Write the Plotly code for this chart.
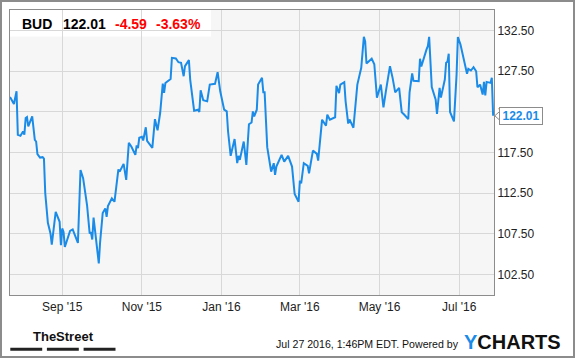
import plotly.graph_objects as go

# ---------------- data ----------------
dates = [
    "2015-07-23", "2015-07-26", "2015-07-28", "2015-07-29", "2015-07-31", "2015-08-02", "2015-08-03",
    "2015-08-04", "2015-08-05", "2015-08-06", "2015-08-09", "2015-08-11", "2015-08-12", "2015-08-13",
    "2015-08-15", "2015-08-17", "2015-08-18", "2015-08-19", "2015-08-21", "2015-08-23", "2015-08-24",
    "2015-08-27", "2015-08-30", "2015-08-31", "2015-09-01", "2015-09-02", "2015-09-03", "2015-09-07",
    "2015-09-09", "2015-09-13", "2015-09-15", "2015-09-17", "2015-09-20", "2015-09-22", "2015-09-23",
    "2015-09-24", "2015-09-25", "2015-09-29", "2015-09-30", "2015-10-02", "2015-10-04", "2015-10-05",
    "2015-10-06", "2015-10-09", "2015-10-11", "2015-10-14", "2015-10-15", "2015-10-18", "2015-10-20",
    "2015-10-22", "2015-10-24", "2015-10-27", "2015-10-28", "2015-10-29", "2015-10-30", "2015-11-01",
    "2015-11-02", "2015-11-04", "2015-11-05", "2015-11-09", "2015-11-11", "2015-11-13", "2015-11-15",
    "2015-11-17", "2015-11-18", "2015-11-19", "2015-11-23", "2015-11-24", "2015-11-27", "2015-11-29",
    "2015-12-01", "2015-12-03", "2015-12-04", "2015-12-07", "2015-12-08", "2015-12-11", "2015-12-14",
    "2015-12-15", "2015-12-16", "2015-12-18", "2015-12-21", "2015-12-23", "2015-12-27", "2015-12-29",
    "2015-12-31", "2016-01-03", "2016-01-05", "2016-01-06", "2016-01-08", "2016-01-11", "2016-01-13",
    "2016-01-14", "2016-01-15", "2016-01-18", "2016-01-20", "2016-01-22", "2016-01-24", "2016-01-25",
    "2016-01-26", "2016-01-28", "2016-01-29", "2016-02-01", "2016-02-02", "2016-02-03", "2016-02-05",
    "2016-02-08", "2016-02-10", "2016-02-11", "2016-02-12", "2016-02-16", "2016-02-18", "2016-02-21",
    "2016-02-24", "2016-02-26", "2016-02-29", "2016-03-01", "2016-03-02", "2016-03-04", "2016-03-07",
    "2016-03-08", "2016-03-11", "2016-03-14", "2016-03-15", "2016-03-18", "2016-03-21", "2016-03-22",
    "2016-03-24", "2016-03-28", "2016-03-29", "2016-03-31", "2016-04-01", "2016-04-04", "2016-04-05",
    "2016-04-07", "2016-04-08", "2016-04-11", "2016-04-14", "2016-04-17", "2016-04-19", "2016-04-20",
    "2016-04-21", "2016-04-22", "2016-04-25", "2016-04-27", "2016-04-29", "2016-05-02", "2016-05-04",
    "2016-05-06", "2016-05-09", "2016-05-11", "2016-05-13", "2016-05-16", "2016-05-18", "2016-05-20",
    "2016-05-23", "2016-05-24", "2016-05-26", "2016-05-27", "2016-05-31", "2016-06-01", "2016-06-02",
    "2016-06-06", "2016-06-07", "2016-06-08", "2016-06-10", "2016-06-13", "2016-06-14", "2016-06-16",
    "2016-06-17", "2016-06-20", "2016-06-21", "2016-06-22", "2016-06-23", "2016-06-24", "2016-06-27",
    "2016-06-29", "2016-06-30", "2016-07-02", "2016-07-06", "2016-07-07", "2016-07-08", "2016-07-10",
    "2016-07-12", "2016-07-14", "2016-07-15", "2016-07-17", "2016-07-19", "2016-07-20", "2016-07-21",
    "2016-07-22", "2016-07-25", "2016-07-26", "2016-07-27",
]

prices = [
    124.32, 123.46, 125.02, 119.68, 119.55, 120.08, 119.68,
    121.74, 121.86, 120.70, 121.93, 119.06, 118.85, 117.30,
    116.88, 116.93, 116.75, 112.49, 108.86, 107.56, 106.20,
    110.22, 108.99, 106.11, 108.17, 107.75, 105.90, 107.88,
    108.05, 106.40, 115.36, 114.34, 111.05, 107.56, 107.72,
    106.82, 109.50, 103.89, 106.48, 110.06, 110.64, 109.60,
    110.92, 111.87, 111.45, 115.42, 115.15, 116.10, 114.13,
    118.69, 118.20, 117.21, 118.38, 118.04, 119.31, 119.43,
    118.97, 120.60, 118.94, 118.07, 121.59, 120.23, 122.35,
    125.97, 124.82, 126.03, 126.52, 129.13, 129.05, 128.59,
    128.52, 126.87, 128.10, 128.84, 126.46, 122.64, 122.76,
    122.48, 125.14, 123.91, 123.78, 125.84, 125.93, 127.36,
    125.02, 122.76, 122.55, 120.08, 117.09, 119.15, 116.19,
    117.09, 116.59, 118.85, 115.98, 120.97, 121.19, 122.55,
    121.93, 122.76, 125.84, 126.67, 124.89, 124.89, 118.16,
    115.15, 116.19, 114.74, 115.77, 117.21, 116.38, 117.09,
    115.77, 112.40, 111.45, 114.04, 113.72, 116.19, 115.85,
    114.95, 117.74, 117.33, 116.51, 121.53, 120.79, 122.14,
    121.53, 121.83, 125.68, 124.79, 125.84, 126.13, 123.81,
    121.06, 121.56, 120.54, 125.84, 127.90, 131.72, 131.14,
    128.43, 128.55, 129.02, 128.34, 124.24, 125.84, 123.04,
    125.16, 128.10, 126.67, 124.89, 125.43, 122.45, 122.14,
    121.59, 124.86, 127.20, 126.30, 126.25, 129.02, 128.06,
    130.16, 130.56, 131.70, 125.53, 123.99, 122.23, 125.43,
    124.24, 126.46, 128.52, 128.64, 129.63, 122.48, 121.32,
    127.07, 131.67, 130.77, 128.10, 127.16, 127.78, 127.57,
    127.97, 127.48, 125.51, 125.84, 124.61, 126.17, 124.52,
    126.17, 126.05, 126.67, 122.01,
]

y_tick_vals = [102.5, 107.5, 112.5, 117.5, 122.5, 127.5, 132.5]
ticker = "BUD"
last_price = "122.01"
change = "-4.59"
change_pct = "-3.63%"
timestamp_text = "Jul 27 2016, 1:46PM EDT. Powered by"

# ---------------- styling ----------------
W, H = 575, 358
ML, MR, MT, MB = 10, 81, 10, 63
PW, PH = W - ML - MR, H - MT - MB
LINE_BLUE = "#1b8be8"
TXT = "#222222"
FONT = "Liberation Sans, Arial, sans-serif"


def px_x(px):
    return (px - ML) / PW


def px_y(py):
    return (H - MB - py) / PH


fig = go.Figure()
fig.add_trace(go.Scatter(
    x=dates, y=prices, mode="lines",
    line=dict(color=LINE_BLUE, width=2),
    hoverinfo="skip", showlegend=False,
))

annotations = []
# header
for txt, left, color in [(ticker, 21.7, "#000000"), (last_price, 62.7, "#000000"),
                         (change, 115.0, "#ff0000"), (change_pct, 155.7, "#ff0000")]:
    annotations.append(dict(
        text=f"<b>{txt}</b>", xref="paper", yref="paper", x=px_x(left - 2), y=px_y(24),
        xanchor="left", yanchor="middle", showarrow=False,
        font=dict(family=FONT, size=14, color=color),
    ))

# last value label box
annotations.append(dict(
    text=f"<b>{prices[-1]:.2f}</b>", xref="paper", yref="y", x=px_x(499.3), y=prices[-1],
    xanchor="left", yanchor="middle", showarrow=False,
    width=42, height=16, borderpad=0,
    bgcolor="#ffffff", bordercolor="#8c8c8c", borderwidth=1,
    font=dict(family=FONT, size=12, color=LINE_BLUE),
))

# footer
annotations.append(dict(
    text="<b>TheStreet</b>", xref="paper", yref="paper", x=px_x(63), y=px_y(336),
    xanchor="center", yanchor="middle", showarrow=False,
    font=dict(family=FONT, size=13, color="#111111"),
))
annotations.append(dict(
    text=timestamp_text, xref="paper", yref="paper", x=px_x(460.5), y=px_y(344.3),
    xanchor="right", yanchor="middle", showarrow=False,
    font=dict(family=FONT, size=10.6, color="#111111"),
))
annotations.append(dict(
    text=f"<b><span style='color:{LINE_BLUE}'>Y</span>CHARTS</b>", xref="paper", yref="paper",
    x=px_x(462), y=px_y(342), xanchor="left", yanchor="middle", showarrow=False,
    font=dict(family=FONT, size=20, color="#111111"),
))

shapes = [
    # white header band
    dict(type="rect", xref="paper", yref="paper", x0=0, x1=px_x(211), y0=px_y(36.5), y1=1,
         fillcolor="#ffffff", line=dict(width=0), layer="below"),
    # outer frame
    dict(type="rect", xref="paper", yref="paper", x0=px_x(1), x1=px_x(574), y0=px_y(357), y1=px_y(1),
         line=dict(color="#8c8c8c", width=2), fillcolor="rgba(0,0,0,0)"),
]
# TheStreet bars
for a, b in [(10.3, 42.2), (46.9, 78.8), (83.6, 115.5)]:
    shapes.append(dict(type="rect", xref="paper", yref="paper", x0=px_x(a), x1=px_x(b),
                       y0=px_y(350.7), y1=px_y(347.7), fillcolor="#222222", line=dict(width=0)))
# pointer of the last-value label
lv = prices[-1]
shapes.append(dict(type="path", xref="paper", yref="y",
                   path=f"M {px_x(499.8)},{lv + 0.55} L {px_x(494.8)},{lv} L {px_x(499.8)},{lv - 0.55} Z",
                   fillcolor="#ffffff", line=dict(color="#8c8c8c", width=1)))

fig.update_layout(
    width=W, height=H,
    margin=dict(l=ML, r=MR, t=MT, b=MB, pad=0),
    paper_bgcolor="#ffffff", plot_bgcolor="#f6f6f6",
    font=dict(family=FONT, size=12, color=TXT),
    annotations=annotations, shapes=shapes,
    showlegend=False,
)
fig.update_xaxes(
    type="date", range=["2015-07-23", "2016-07-27 16:00"],
    tick0="2015-09-01", dtick="M2", tickformat="%b '%y",
    showgrid=True, gridcolor="#d8d8d8", gridwidth=1,
    showline=True, linecolor="#8c8c8c", linewidth=1, mirror=True,
    ticks="outside", ticklen=1, tickcolor="rgba(0,0,0,0)",
    tickfont=dict(family=FONT, size=12, color=TXT), zeroline=False,
)
fig.update_yaxes(
    range=[100, 135], side="right",
    tickvals=y_tick_vals, ticktext=[f"{v:.2f}" for v in y_tick_vals],
    showgrid=True, gridcolor="#d8d8d8", gridwidth=1,
    showline=True, linecolor="#8c8c8c", linewidth=1, mirror=True,
    ticks="outside", ticklen=0, tickcolor="rgba(0,0,0,0)",
    tickfont=dict(family=FONT, size=12, color=TXT), zeroline=False,
)

fig.write_html(
    "out.html",
    config={"displayModeBar": False, "staticPlot": True},
    post_script="document.body.style.margin='0';document.body.style.padding='0';",
)
